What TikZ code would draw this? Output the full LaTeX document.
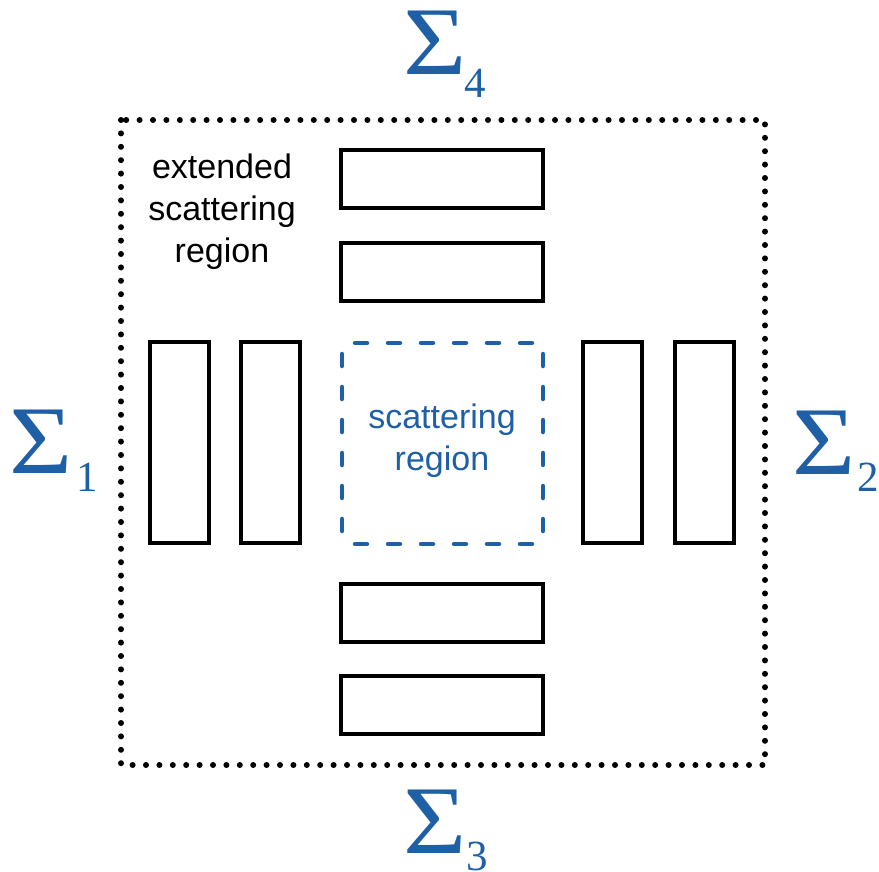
\documentclass[tikz,border=0pt]{standalone}
\usepackage{fontspec}
\usepackage{graphicx}
\setmainfont{Liberation Sans}
\newfontfamily\tnr{Liberation Serif}
\definecolor{sblue}{RGB}{31,95,166}
\newcommand{\wsig}{\scalebox{1.12}[1]{Σ}}
\begin{document}
\begin{tikzpicture}[x=1pt,y=-1pt,
  hbar/.style={draw=black,line width=4pt,minimum width=202pt,minimum height=58pt,inner sep=0pt,outer sep=0pt},
  vbar/.style={draw=black,line width=4pt,minimum width=59pt,minimum height=201pt,inner sep=0pt,outer sep=0pt},
  dsq/.style={draw=sblue,line width=4.5pt,line cap=round,dash pattern=on 12pt off 21pt},
  dotb/.style={draw=black,line width=6pt,line cap=round,dash pattern=on 0pt off 13.4pt},
  sig/.style={font=\tnr\fontsize{97}{97}\selectfont,text=sblue,inner sep=0pt,anchor=base west,text height=62pt,text depth=0pt},
  sub/.style={font=\tnr\fontsize{43}{43}\selectfont,text=sblue,inner sep=0pt,anchor=base west,text height=29pt,text depth=0pt},
  lbl/.style={font=\fontsize{34}{42}\selectfont,align=center,inner sep=0pt}]
\useasboundingbox (0,0) rectangle (879,871);
% extended scattering region border
\draw[dotb] (121,120) rectangle (765,765);
% bars
\node[hbar] (t1) at (442,179) {};
\node[hbar] (t2) at (442,271.5) {};
\node[hbar] (b1) at (442,613) {};
\node[hbar] (b2) at (442,705) {};
\node[vbar] (l1) at (179.5,442.5) {};
\node[vbar] (l2) at (270.5,442.5) {};
\node[vbar] (r1) at (612,442.5) {};
\node[vbar] (r2) at (704.5,442.5) {};
% scattering region (dashed)
\draw[dsq] (355,343) -- (545,343);
\draw[dsq] (355,544) -- (545,544);
\draw[dsq] (342,354) -- (342,544);
\draw[dsq] (543,354) -- (543,544);
\node[lbl,text=sblue] (sr) at (442,441) {scattering\\region};
\node[lbl] (esr) at (222,212) {extended\\scattering\\region};
% Sigma labels
\node[sig] (s4) at (403.5,74) {\wsig};
\node[sub] (s4i) at (464,97) {4};
\node[sig] (s1) at (9.5,473) {\wsig};
\node[sub] (s1i) at (76,491) {1};
\node[sig] (s2) at (792.5,474) {\wsig};
\node[sub] (s2i) at (857,491) {2};
\node[sig] (s3) at (403.5,853) {\wsig};
\node[sub] (s3i) at (466,870) {3};
\end{tikzpicture}
\end{document}
